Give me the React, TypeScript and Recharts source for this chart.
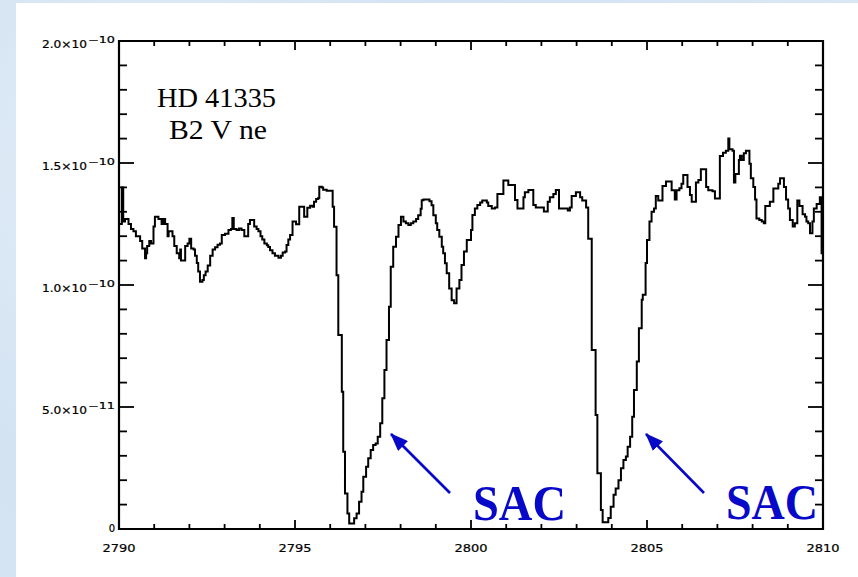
import React from 'react';
import { LineChart, Line, XAxis, YAxis, ReferenceArea } from 'recharts';

// wavelength (Angstrom) and flux (in units of 1e-10), step changes
const wavelengths = [
  2790.0, 2790.08, 2790.12, 2790.17, 2790.27, 2790.34, 2790.41, 2790.48, 2790.6, 2790.66,
  2790.74, 2790.77, 2790.8, 2790.86, 2790.91, 2790.98, 2791.02, 2791.12, 2791.21, 2791.26,
  2791.31, 2791.38, 2791.41, 2791.52, 2791.57, 2791.64, 2791.71, 2791.74, 2791.76, 2791.88,
  2791.95, 2792.0, 2792.05, 2792.12, 2792.16, 2792.21, 2792.25, 2792.3, 2792.37, 2792.41,
  2792.46, 2792.52, 2792.59, 2792.66, 2792.73, 2792.8, 2792.87, 2792.92, 2793.01, 2793.11,
  2793.18, 2793.22, 2793.26, 2793.34, 2793.41, 2793.48, 2793.56, 2793.67, 2793.72, 2793.84,
  2793.91, 2793.96, 2794.02, 2794.07, 2794.13, 2794.2, 2794.24, 2794.29, 2794.36, 2794.43,
  2794.53, 2794.6, 2794.65, 2794.72, 2794.76, 2794.81, 2794.86, 2794.93, 2795.03, 2795.12,
  2795.26, 2795.35, 2795.43, 2795.5, 2795.54, 2795.6, 2795.66, 2795.69, 2795.76, 2795.8,
  2795.9, 2796.07, 2796.11, 2796.18, 2796.23, 2796.33, 2796.37, 2796.42, 2796.49, 2796.54,
  2796.68, 2796.75, 2796.82, 2796.89, 2796.94, 2797.02, 2797.08, 2797.15, 2797.22, 2797.29,
  2797.35, 2797.42, 2797.48, 2797.54, 2797.6, 2797.67, 2797.72, 2797.79, 2797.87, 2797.94,
  2798.01, 2798.08, 2798.15, 2798.22, 2798.29, 2798.36, 2798.44, 2798.5, 2798.57, 2798.6,
  2798.65, 2798.82, 2798.88, 2798.93, 2799.0, 2799.04, 2799.1, 2799.17, 2799.21, 2799.26,
  2799.31, 2799.38, 2799.45, 2799.52, 2799.59, 2799.67, 2799.73, 2799.8, 2799.88, 2800.0,
  2800.04, 2800.11, 2800.18, 2800.26, 2800.32, 2800.45, 2800.49, 2800.59, 2800.68, 2800.75,
  2800.92, 2801.06, 2801.25, 2801.32, 2801.49, 2801.53, 2801.63, 2801.77, 2801.84, 2802.07,
  2802.18, 2802.24, 2802.34, 2802.41, 2802.5, 2802.75, 2802.81, 2802.86, 2802.98, 2803.1,
  2803.16, 2803.27, 2803.33, 2803.43, 2803.54, 2803.59, 2803.69, 2803.74, 2803.9, 2803.97,
  2804.05, 2804.11, 2804.19, 2804.26, 2804.33, 2804.4, 2804.45, 2804.52, 2804.58, 2804.63,
  2804.71, 2804.77, 2804.85, 2804.88, 2804.96, 2805.0, 2805.07, 2805.13, 2805.2, 2805.25,
  2805.32, 2805.44, 2805.54, 2805.7, 2805.79, 2805.84, 2805.92, 2805.98, 2806.03, 2806.15,
  2806.22, 2806.27, 2806.39, 2806.46, 2806.53, 2806.68, 2806.74, 2806.86, 2806.93, 2807.07,
  2807.16, 2807.24, 2807.31, 2807.34, 2807.43, 2807.47, 2807.51, 2807.61, 2807.64, 2807.69,
  2807.75, 2807.81, 2807.91, 2807.95, 2808.02, 2808.07, 2808.11, 2808.19, 2808.26, 2808.32,
  2808.36, 2808.49, 2808.59, 2808.73, 2808.78, 2808.89, 2808.95, 2809.01, 2809.06, 2809.14,
  2809.2, 2809.27, 2809.33, 2809.42, 2809.49, 2809.53, 2809.58, 2809.63, 2809.7, 2809.74,
  2809.82, 2809.91, 2809.96, 2810.0,
];

const fluxes = [
  1.25, 1.4, 1.26, 1.27, 1.25, 1.23, 1.22, 1.2, 1.18, 1.15,
  1.11, 1.13, 1.16, 1.18, 1.17, 1.24, 1.28, 1.27, 1.25, 1.27,
  1.25, 1.2, 1.22, 1.2, 1.16, 1.13, 1.11, 1.145, 1.1, 1.16,
  1.17, 1.19, 1.15, 1.145, 1.12, 1.09, 1.055, 1.013, 1.02, 1.04,
  1.055, 1.08, 1.12, 1.145, 1.155, 1.165, 1.17, 1.205, 1.21, 1.225,
  1.23, 1.275, 1.23, 1.225, 1.232, 1.225, 1.2, 1.25, 1.266, 1.24,
  1.23, 1.22, 1.2, 1.186, 1.17, 1.163, 1.156, 1.142, 1.13, 1.12,
  1.112, 1.12, 1.133, 1.137, 1.164, 1.186, 1.205, 1.26, 1.249, 1.321,
  1.28, 1.317, 1.325, 1.321, 1.341, 1.352, 1.357, 1.403, 1.4, 1.39,
  1.386, 1.321, 1.239, 1.04, 0.795, 0.563, 0.317, 0.146, 0.064, 0.023,
  0.044, 0.064, 0.112, 0.153, 0.214, 0.255, 0.29, 0.324, 0.344, 0.35,
  0.378, 0.433, 0.536, 0.652, 0.775, 0.911, 1.075, 1.157, 1.198, 1.246,
  1.28, 1.26, 1.253, 1.246, 1.253, 1.26, 1.27, 1.286, 1.313, 1.347,
  1.35, 1.343, 1.327, 1.286, 1.253, 1.225, 1.198, 1.157, 1.13, 1.089,
  1.048, 0.986, 0.938, 0.925, 0.986, 1.02, 1.082, 1.137, 1.184, 1.225,
  1.287, 1.314, 1.328, 1.338, 1.346, 1.338, 1.324, 1.314, 1.318, 1.373,
  1.428, 1.41, 1.348, 1.314, 1.36, 1.38, 1.389, 1.328, 1.318, 1.301,
  1.341, 1.36, 1.373, 1.389, 1.314, 1.305, 1.318, 1.365, 1.38, 1.36,
  1.346, 1.318, 1.19, 0.734, 0.467, 0.228, 0.078, 0.028, 0.045, 0.091,
  0.14, 0.166, 0.2, 0.249, 0.283, 0.297, 0.337, 0.378, 0.46, 0.57,
  0.686, 0.823, 0.94, 0.96, 1.09, 1.184, 1.26, 1.3, 1.314, 1.365,
  1.346, 1.406, 1.424, 1.388, 1.35, 1.388, 1.397, 1.415, 1.451, 1.402,
  1.369, 1.341, 1.42, 1.43, 1.474, 1.402, 1.388, 1.384, 1.355, 1.529,
  1.542, 1.55, 1.6, 1.556, 1.55, 1.42, 1.455, 1.512, 1.53, 1.512,
  1.54, 1.55, 1.497, 1.437, 1.402, 1.35, 1.273, 1.266, 1.26, 1.253,
  1.324, 1.341, 1.396, 1.415, 1.437, 1.402, 1.35, 1.314, 1.266, 1.24,
  1.253, 1.346, 1.324, 1.29, 1.28, 1.26, 1.253, 1.212, 1.26, 1.314,
  1.332, 1.36, 1.13, 1.13,
];

const xMajor = [2790, 2795, 2800, 2805, 2810];
const xMinor = [
  2791, 2792, 2793, 2794, 2796, 2797, 2798, 2799,
  2801, 2802, 2803, 2804, 2806, 2807, 2808, 2809,
];
const xLabels = ['2790', '2795', '2800', '2805', '2810'];

const yMajor = [0, 0.5, 1.0, 1.5, 2.0];
const yMinor = [
  0.1, 0.2, 0.3, 0.4, 0.6, 0.7, 0.8, 0.9,
  1.1, 1.2, 1.3, 1.4, 1.6, 1.7, 1.8, 1.9,
];
const yMantissa = ['0', '5.0\u00d710', '1.0\u00d710', '1.5\u00d710', '2.0\u00d710'];
const yExponent = ['', '\u221211', '\u221210', '\u221210', '\u221210'];

const data = wavelengths.map((wl, i) => ({ wl, flux: fluxes[i] }));

const W = 858;
const H = 577;
const PLOT_LEFT = 119;
const PLOT_RIGHT = 823;
const PLOT_TOP = 41;
const PLOT_BOTTOM = 529;
const BLUE = '#0808c8';
const TICK_FONT = '"DejaVu Sans", sans-serif';

const near = (arr: number[], v: number) => arr.findIndex((a) => Math.abs(a - v) < 1e-6);

const XTick = (props: any) => {
  const { x, payload } = props;
  const idx = near(xMajor, payload.value);
  const len = idx >= 0 ? 9 : 5;
  return (
    <g>
      <line x1={x} y1={PLOT_BOTTOM} x2={x} y2={PLOT_BOTTOM - len} stroke="#000" strokeWidth={1.8} />
      <line x1={x} y1={PLOT_TOP} x2={x} y2={PLOT_TOP + len} stroke="#000" strokeWidth={1.8} />
      {idx >= 0 && (
        <text
          x={x}
          y={552}
          textAnchor="middle"
          fontFamily={TICK_FONT}
          fontSize={11}
          fill="#000"
          stroke="#000"
          strokeWidth={0.2}
          textLength={33}
          lengthAdjust="spacingAndGlyphs"
        >
          {xLabels[idx]}
        </text>
      )}
    </g>
  );
};

const YTick = (props: any) => {
  const { y, payload } = props;
  const idx = near(yMajor, payload.value);
  const len = idx >= 0 ? 15 : 8;
  let label = null;
  if (idx === 0) {
    label = (
      <text x={115} y={y + 3} textAnchor="end" fontFamily={TICK_FONT} fontSize={10} fill="#000" stroke="#000" strokeWidth={0.2}>
        {yMantissa[0]}
      </text>
    );
  } else if (idx > 0) {
    label = (
      <g>
        <text
          x={42}
          y={y + 7}
          fontFamily={TICK_FONT}
          fontSize={10}
          fill="#000"
          stroke="#000"
          strokeWidth={0.2}
          textLength={45}
          lengthAdjust="spacingAndGlyphs"
        >
          {yMantissa[idx]}
        </text>
        <text
          x={88}
          y={y + 1.5}
          fontFamily={TICK_FONT}
          fontSize={8}
          fill="#000"
          stroke="#000"
          strokeWidth={0.2}
          textLength={27}
          lengthAdjust="spacingAndGlyphs"
        >
          {yExponent[idx]}
        </text>
      </g>
    );
  }
  return (
    <g>
      <line x1={PLOT_LEFT} y1={y} x2={PLOT_LEFT + len} y2={y} stroke="#000" strokeWidth={1.8} />
      <line x1={PLOT_RIGHT} y1={y} x2={PLOT_RIGHT - len} y2={y} stroke="#000" strokeWidth={1.8} />
      {label}
    </g>
  );
};

const App: React.FC = () => {
  const xTicks = [...xMajor, ...xMinor].sort((a, b) => a - b);
  const yTicks = [...yMajor, ...yMinor].sort((a, b) => a - b);

  return (
    <div
      style={{
        position: 'absolute',
        left: 0,
        top: 0,
        width: W,
        height: H,
        overflow: 'hidden',
        background:
          'radial-gradient(circle at 20% 30%, #e4eef8 0%, #d3e3f2 40%, #dbe8f5 100%)',
      }}
    >
      <div style={{ position: 'absolute', left: 16, top: 3, right: 0, bottom: 0, background: '#fff' }} />
      <div style={{ position: 'absolute', left: 0, top: 0 }}>
        <LineChart width={W} height={H} data={data} margin={{ top: 41, right: 35, bottom: 18, left: 59 }}>
          <XAxis
            type="number"
            dataKey="wl"
            domain={[2790, 2810]}
            ticks={xTicks}
            interval={0}
            tick={(p: any) => <XTick {...p} />}
            tickLine={false}
            axisLine={false}
            height={30}
            allowDataOverflow
          />
          <YAxis
            type="number"
            domain={[0, 2]}
            ticks={yTicks}
            interval={0}
            tick={(p: any) => <YTick {...p} />}
            tickLine={false}
            axisLine={false}
            width={60}
            allowDataOverflow
          />
          <ReferenceArea
            x1={2790}
            x2={2810}
            y1={0}
            y2={2}
            fill="none"
            fillOpacity={0}
            stroke="#000"
            strokeWidth={2.2}
            ifOverflow="visible"
          />
          <Line
            type="stepAfter"
            dataKey="flux"
            stroke="#000"
            strokeWidth={2}
            dot={false}
            activeDot={false}
            isAnimationActive={false}
          />
        </LineChart>
      </div>
      <svg
        width={W}
        height={H}
        style={{ position: 'absolute', left: 0, top: 0, pointerEvents: 'none' }}
      >
        <defs>
          <marker
            id="arrowHead"
            markerWidth={18}
            markerHeight={14}
            refX={17}
            refY={7}
            orient="auto"
            markerUnits="userSpaceOnUse"
          >
            <path d="M0,0 L18,7 L0,14 Z" fill={BLUE} />
          </marker>
        </defs>
        <text x={157} y={107} fontFamily='"Liberation Serif", serif' fontSize={27} fill="#000" textLength={119} lengthAdjust="spacingAndGlyphs">
          HD 41335
        </text>
        <text x={169} y={139} fontFamily='"Liberation Serif", serif' fontSize={27} fill="#000" textLength={98} lengthAdjust="spacingAndGlyphs">
          B2 V ne
        </text>
        <line x1={450} y1={493} x2={391} y2={434} stroke={BLUE} strokeWidth={2.6} markerEnd="url(#arrowHead)" />
        <line x1={704} y1={493} x2={646} y2={434} stroke={BLUE} strokeWidth={2.6} markerEnd="url(#arrowHead)" />
        <text x={473} y={520} fontFamily='"Liberation Serif", serif' fontWeight="bold" fontSize={50} fill={BLUE} textLength={93} lengthAdjust="spacingAndGlyphs">
          SAC
        </text>
        <text x={726} y={519} fontFamily='"Liberation Serif", serif' fontWeight="bold" fontSize={50} fill={BLUE} textLength={92} lengthAdjust="spacingAndGlyphs">
          SAC
        </text>
      </svg>
    </div>
  );
};

export default App;
